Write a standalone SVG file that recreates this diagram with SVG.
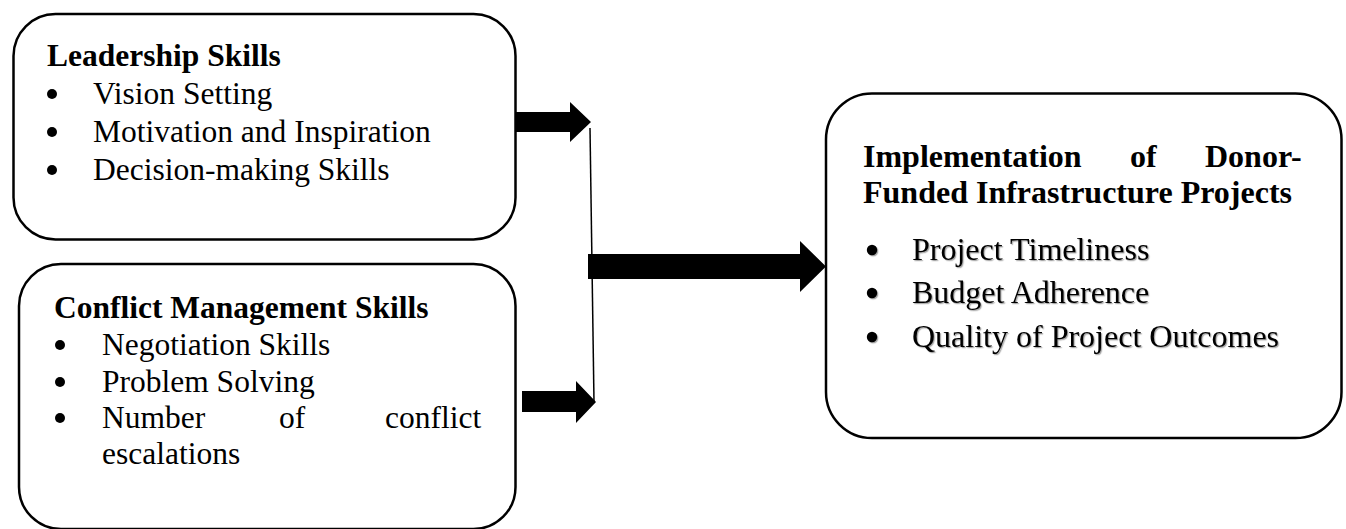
<svg xmlns="http://www.w3.org/2000/svg" width="1346" height="529" viewBox="0 0 1346 529">
<style>
.box{fill:#fff;stroke:#000;stroke-width:2.5}
.t{font-family:"Liberation Serif","Times New Roman",serif;font-size:31.5px;fill:#000}
.b{font-weight:bold}
.r{font-size:32px}
.sh{filter:url(#shadow)}
.arrow{fill:#000}
.line{stroke:#000;stroke-width:1.5;fill:none}
</style>
<defs>
<filter id="shadow" x="-5%" y="-20%" width="110%" height="140%">
<feDropShadow dx="1.2" dy="1.2" stdDeviation="0.6" flood-color="#000" flood-opacity="0.35"/>
</filter>
</defs>
<rect width="1346" height="529" fill="#fff"/>
<g id="connectors">
<polygon class="arrow" points="516,112 570,112 570,102 591,122 570,142 570,132 516,132"/>
<polygon class="arrow" points="522,391 576,391 576,381 596,402 576,423 576,412 522,412"/>
<line class="line" x1="590" y1="128" x2="594" y2="402"/>
<polygon class="arrow" points="588,254 800,254 800,241 826,266.5 800,292 800,279 588,279"/>
</g>
<g id="leadership">
<rect class="box" x="13.5" y="14" width="502" height="225.5" rx="42"/>
<text class="t b" x="47" y="66">Leadership Skills</text>
<circle cx="52" cy="94" r="5"/>
<text class="t" x="93" y="104">Vision Setting</text>
<circle cx="52" cy="132" r="5"/>
<text class="t" x="93" y="142">Motivation and Inspiration</text>
<circle cx="52" cy="170" r="5"/>
<text class="t" x="93" y="180">Decision-making Skills</text>
</g>
<g id="conflict">
<rect class="box" x="19" y="264" width="496.5" height="265" rx="42"/>
<text class="t b" x="54" y="318">Conflict Management Skills</text>
<circle cx="60" cy="345" r="5"/>
<text class="t" x="102" y="355">Negotiation Skills</text>
<circle cx="60" cy="382" r="5"/>
<text class="t" x="102" y="392">Problem Solving</text>
<circle cx="60" cy="418" r="5"/>
<text class="t" x="102" y="428"><tspan x="102">Number</tspan><tspan x="279">of</tspan><tspan x="385">conflict</tspan></text>
<text class="t" x="102" y="464">escalations</text>
</g>
<g id="implementation">
<rect class="box" x="826" y="93.5" width="515.5" height="344.5" rx="46"/>
<text class="t r b" y="167"><tspan x="863">Implementation</tspan><tspan x="1130">of</tspan><tspan x="1205">Donor-</tspan></text>
<text class="t r b" x="863" y="203">Funded Infrastructure Projects</text>
<g class="sh">
<circle cx="872" cy="250" r="5.2"/>
<text class="t r" x="912" y="260">Project Timeliness</text>
<circle cx="872" cy="293" r="5.2"/>
<text class="t r" x="912" y="303">Budget Adherence</text>
<circle cx="872" cy="337" r="5.2"/>
<text class="t r" x="912" y="347">Quality of Project Outcomes</text>
</g>
</g>
</svg>
